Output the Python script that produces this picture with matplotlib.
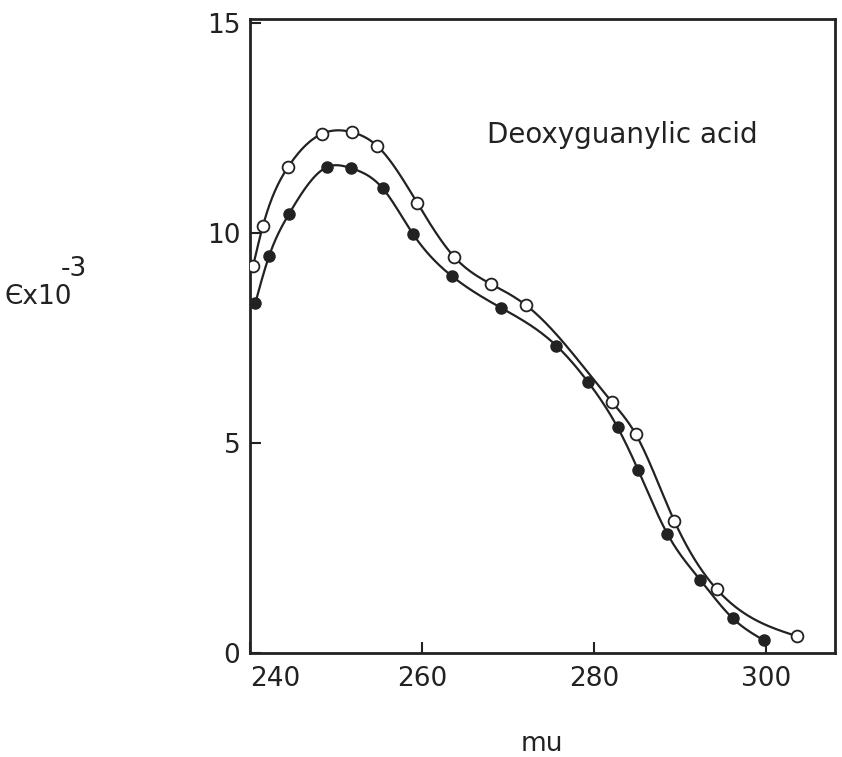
import numpy as np
import matplotlib
matplotlib.use("Agg")
import matplotlib.pyplot as plt

# wavelength (mu) and extinction (x 10^-3)
open_x = [240.35, 241.5, 244.4, 248.4, 251.9, 254.8, 259.4, 263.7, 268.0,
          272.1, 282.1, 284.8, 289.3, 294.2, 303.5]
open_y = [9.22, 10.18, 11.57, 12.37, 12.40, 12.07, 10.73, 9.44, 8.79,
          8.28, 5.97, 5.22, 3.15, 1.53, 0.41]

filled_x = [240.6, 242.2, 244.5, 248.9, 251.7, 255.4, 258.9, 263.5, 269.1,
            275.6, 279.3, 282.7, 285.1, 288.5, 292.3, 296.1, 299.7]
filled_y = [8.33, 9.45, 10.45, 11.57, 11.55, 11.07, 9.99, 8.97, 8.23,
            7.32, 6.45, 5.38, 4.36, 2.84, 1.75, 0.83, 0.31]

x_ticks = [240, 260, 280, 300]
y_ticks = [0, 5, 10, 15]

INK = "#222222"


def spline(xs, ys, n=400):
    # natural cubic spline through the measured points (the hand-drawn curve)
    x = np.asarray(xs, float)
    y = np.asarray(ys, float)
    k = len(x)
    h = np.diff(x)
    A = np.zeros((k, k))
    b = np.zeros(k)
    A[0, 0] = A[-1, -1] = 1
    for i in range(1, k - 1):
        A[i, i - 1] = h[i - 1]
        A[i, i] = 2 * (h[i - 1] + h[i])
        A[i, i + 1] = h[i]
        b[i] = 6 * ((y[i + 1] - y[i]) / h[i] - (y[i] - y[i - 1]) / h[i - 1])
    M = np.linalg.solve(A, b)
    xx = np.linspace(x[0], x[-1], n)
    j = np.clip(np.searchsorted(x, xx) - 1, 0, k - 2)
    t1 = x[j + 1] - xx
    t0 = xx - x[j]
    hj = h[j]
    yy = (M[j] * t1 ** 3 / (6 * hj) + M[j + 1] * t0 ** 3 / (6 * hj)
          + (y[j] / hj - M[j] * hj / 6) * t1
          + (y[j + 1] / hj - M[j + 1] * hj / 6) * t0)
    return xx, yy


fig = plt.figure(figsize=(8.42, 7.57), dpi=100)
ax = fig.add_axes([0.297, 0.137, 0.695, 0.838])

cx, cy = spline(open_x, open_y)
ax.plot(cx, cy, color=INK, lw=1.6)
cx, cy = spline(filled_x, filled_y)
ax.plot(cx, cy, color=INK, lw=1.6)

ax.plot(open_x, open_y, "o", ms=8.5, mfc="white", mec=INK, mew=1.3, zorder=3)
ax.plot(filled_x, filled_y, "o", ms=8, mfc=INK, mec=INK, zorder=3)

ax.set_xlim(240.3, 308)
ax.set_ylim(0, 15.1)
ax.set_xticks(x_ticks)
ax.set_yticks(y_ticks)
ax.tick_params(direction="in", length=8, width=1.5, colors=INK,
               labelsize=19)
ax.tick_params(axis="y", pad=7)
ax.tick_params(axis="x", pad=9)
ax.get_xticklabels()[0].set_ha("left")
for s in ax.spines.values():
    s.set_linewidth(2)
    s.set_color(INK)

ax.text(0.405, 0.805, "Deoxyguanylic acid", transform=ax.transAxes,
        fontsize=20, color=INK)

fig.text(0.643, 0.008, "mu", fontsize=19, color=INK, ha="center")
fig.text(0.005, 0.598, "Єx10", fontsize=19, color=INK)
fig.text(0.072, 0.635, "-3", fontsize=19, color=INK)

fig.savefig("out.png", dpi=100)
